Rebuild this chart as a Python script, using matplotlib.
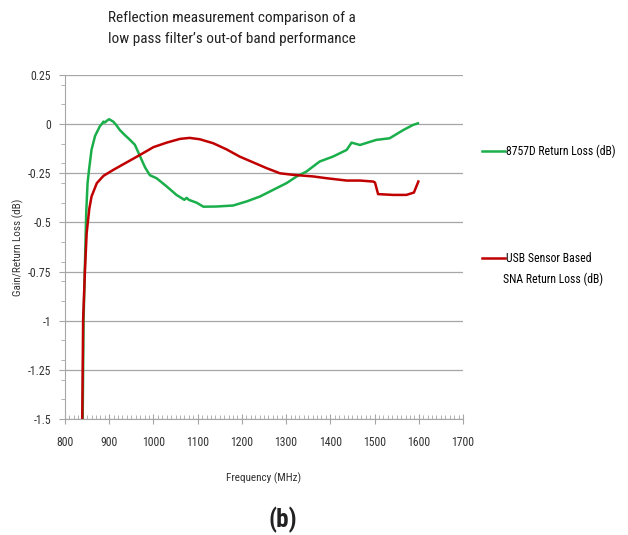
import matplotlib
matplotlib.use("Agg")
import matplotlib.pyplot as plt
from matplotlib.ticker import MultipleLocator
from matplotlib import font_manager

# values
freq_8757 = [840, 842, 845, 848, 851, 855, 860, 868, 879, 884, 887, 890, 895, 900, 905, 909,
             916, 924, 935, 947, 958, 970, 981, 992, 1007, 1030, 1052, 1070, 1075, 1080, 1098,
             1113, 1143, 1180, 1211, 1241, 1271, 1301, 1324, 1346, 1376, 1406, 1437, 1448,
             1467, 1504, 1534, 1565, 1587, 1598]
rl_8757 = [-1.5, -1.0, -0.72, -0.45, -0.30, -0.22, -0.13, -0.06, -0.01, 0.003, 0.013, 0.008,
           0.018, 0.025, 0.018, 0.013, -0.005, -0.03, -0.055, -0.08, -0.105, -0.165, -0.22,
           -0.26, -0.275, -0.317, -0.36, -0.385, -0.375, -0.385, -0.40, -0.42, -0.419,
           -0.414, -0.393, -0.368, -0.334, -0.30, -0.266, -0.241, -0.19, -0.165, -0.131,
           -0.094, -0.106, -0.08, -0.072, -0.03, -0.004, 0.004]

freq_usb = [839, 841, 845, 849, 855, 860, 872, 887, 909, 939, 970, 1000, 1030, 1060, 1082,
            1105, 1135, 1165, 1195, 1226, 1256, 1286, 1316, 1361, 1391, 1437, 1467, 1497,
            1501, 1508, 1542, 1572, 1589, 1599]
rl_usb = [-1.5, -0.995, -0.75, -0.554, -0.43, -0.368, -0.30, -0.263, -0.233, -0.195, -0.156,
          -0.117, -0.094, -0.075, -0.07, -0.077, -0.097, -0.128, -0.165, -0.195, -0.224,
          -0.25, -0.258, -0.266, -0.275, -0.287, -0.287, -0.292, -0.297, -0.356, -0.36,
          -0.36, -0.348, -0.292]

label_8757 = "8757D Return Loss (dB)"
label_usb = "USB Sensor Based"
label_usb2 = "SNA Return Loss (dB)"

names = {f.name for f in font_manager.fontManager.ttflist}
fam = 'DejaVu Sans'
for cand in ['Roboto Condensed', 'Liberation Sans Narrow', 'Liberation Sans', 'Roboto']:
    if cand in names:
        fam = cand
        break
plt.rcParams['font.family'] = [fam, 'DejaVu Sans']

green = '#1aaf4b'
red = '#c00000'
grid_c = '#a6a6a6'
txt_c = '#333333'

fig = plt.figure(figsize=(6.28, 5.35), dpi=100)
ax = fig.add_axes([65/628, 1-419/535, 398/628, 344/535])

l1, = ax.plot(freq_8757, rl_8757, color=green, lw=1.8)
l2, = ax.plot(freq_usb, rl_usb, color=red, lw=1.8)

ax.set_xlim(800, 1700)
ax.set_ylim(-1.5, 0.25)
ax.xaxis.set_major_locator(MultipleLocator(100))
ax.xaxis.set_minor_locator(MultipleLocator(10))
ax.yaxis.set_major_locator(MultipleLocator(0.25))
ax.yaxis.set_minor_locator(MultipleLocator(0.1))
ax.set_yticks(ax.get_yticks())
ax.set_yticklabels([f"{v:g}" for v in ax.get_yticks()])
ax.set_ylim(-1.5, 0.25)
ax.grid(axis='y', color=grid_c, lw=0.9)
ax.set_axisbelow(True)
for s in ['top', 'right']:
    ax.spines[s].set_visible(False)
for s in ['left', 'bottom']:
    ax.spines[s].set_color(grid_c)
ax.tick_params(axis='x', which='major', direction='inout', length=7, color=grid_c,
               labelsize=8.5, labelcolor=txt_c, pad=9)
ax.tick_params(axis='x', which='minor', direction='in', length=3, color=grid_c)
ax.tick_params(axis='y', which='major', direction='out', length=4, color=grid_c,
               labelsize=8.5, labelcolor=txt_c, pad=6)
ax.tick_params(axis='y', which='minor', direction='out', length=3, color=grid_c)

ax.set_xlabel("Frequency (MHz)", fontsize=8, color=txt_c, labelpad=17)
fig.text(18/628, 1-247/535, "Gain/Return Loss (dB)", rotation=90, ha='center', va='center',
         fontsize=8, color=txt_c)

fig.text(232/628, 1-18/535, "Reflection measurement comparison of a", ha='center',
         va='center', fontsize=11, color='#222222')
fig.text(232/628, 1-39/535, "low pass filter\u2019s out-of band performance", ha='center',
         va='center', fontsize=11, color='#222222')

fig.legend([l1], [label_8757], loc='center left', bbox_to_anchor=(471/628, 1-151/535),
           frameon=False, handlelength=2.0, handletextpad=0.05, fontsize=8.5)
fig.legend([l2], [label_usb], loc='center left', bbox_to_anchor=(471/628, 1-259/535),
           frameon=False, handlelength=2.0, handletextpad=0.05, fontsize=8.5)
fig.text(503/628, 1-279/535, label_usb2, ha='left', va='center', fontsize=8.5)

fig.text(283/628, 1-520/535, "(b)", ha='center', va='center', fontsize=18,
         fontweight='bold', color='#222222')

fig.savefig("out.png", dpi=100)
